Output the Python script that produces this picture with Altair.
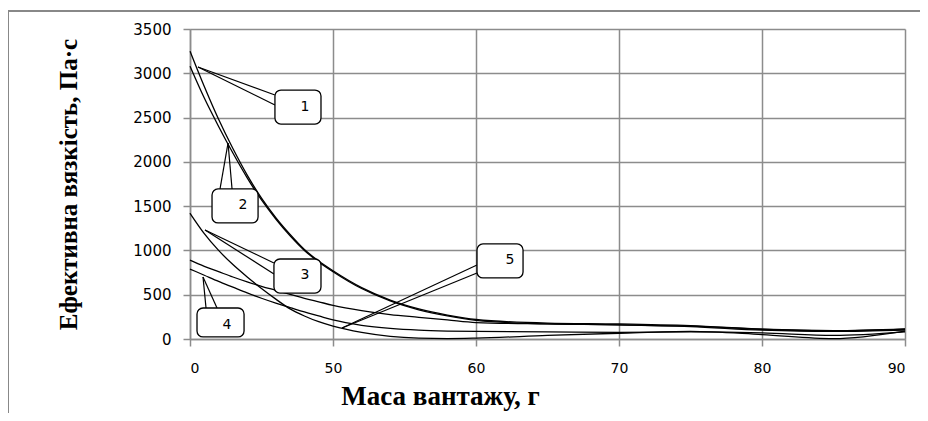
import altair as alt
import pandas as pd

# x positions are category slots (0..5) labelled with these values
x_labels = ["0", "50", "60", "70", "80", "90"]
u_grid = [0, 0.1, 0.2, 0.3, 0.4, 0.5, 0.6, 0.7, 0.8, 0.9, 1.0, 1.2, 1.4, 1.6, 1.8, 2.0, 2.5, 3.0, 3.5, 4.0, 4.5, 5.0]

curve_a = [3250, 2850, 2480, 2150, 1850, 1590, 1370, 1180, 1010, 880, 770, 580, 440, 340, 270, 220, 180, 170, 150, 110, 90, 110]
curve_b = [3080, 2720, 2400, 2100, 1820, 1570, 1355, 1165, 1000, 870, 760, 570, 430, 330, 260, 210, 170, 160, 140, 100, 85, 100]
curve_c = [1420, 1190, 1000, 840, 700, 570, 450, 340, 260, 195, 145, 75, 30, 10, 5, 10, 40, 65, 85, 50, 5, 90]
curve_d1 = [890, 820, 760, 700, 645, 595, 550, 505, 460, 420, 380, 320, 275, 245, 215, 185, 170, 160, 145, 110, 95, 115]
curve_d2 = [790, 720, 650, 585, 520, 460, 405, 355, 305, 260, 215, 155, 120, 100, 90, 85, 80, 75, 80, 70, 40, 80]

curves = {"A": curve_a, "B": curve_b, "C": curve_c, "D1": curve_d1, "D2": curve_d2}

# callouts (data units)
call_text = ["1", "2", "3", "4", "5"]
box_u1 = [0.594, 0.154, 0.587, 0.049, 2.007]
box_u2 = [0.916, 0.476, 0.916, 0.378, 2.329]
box_v1 = [2811, 1694, 903, 350, 1073]
box_v2 = [2427, 1310, 519, 23, 689]
txt_u = [0.783, 0.35, 0.783, 0.238, 2.217]
txt_v = [2619, 1513, 723, 158, 892]
tip_u = [0.056, 0.266, 0.105, 0.091, 1.063]
tip_v = [3071, 2213, 1231, 700, 124]
base_a_u = [0.594, 0.21, 0.587, 0.112, 2.007]
base_a_v = [2755, 1694, 858, 350, 835]
base_b_u = [0.594, 0.294, 0.587, 0.189, 2.007]
base_b_v = [2642, 1694, 734, 350, 745]

rows = []
for name, vals in curves.items():
    for u, v in zip(u_grid, vals):
        rows.append({"curve": name, "u": u, "v": v})
df = pd.DataFrame(rows)

boxes = pd.DataFrame({"t": call_text, "u1": box_u1, "u2": box_u2, "v1": box_v1, "v2": box_v2,
                      "tu": txt_u, "tv": txt_v})
seg_rows = []
for i in range(len(call_text)):
    seg_rows.append({"u": tip_u[i], "v": tip_v[i], "u2": base_a_u[i], "v2": base_a_v[i]})
    seg_rows.append({"u": tip_u[i], "v": tip_v[i], "u2": base_b_u[i], "v2": base_b_v[i]})
segs = pd.DataFrame(seg_rows)

label_expr = "[" + ",".join("'%s'" % s for s in x_labels) + "][datum.value]"

xscale = alt.Scale(domain=[0, 5], nice=False, zero=False)
yscale = alt.Scale(domain=[0, 3500], nice=False)

x_enc = alt.X("u:Q", scale=xscale, axis=alt.Axis(
    values=[0, 1, 2, 3, 4, 5], labelExpr=label_expr, title="Маса вантажу, г",
    titleFont="Liberation Serif", titleFontWeight="bold", titleFontSize=27,
    titleX=250, titleY=65, titleAlign="center", titleBaseline="alphabetic", titleAngle=0,
    labelPadding=15, labelFontSize=14))
y_enc = alt.Y("v:Q", scale=yscale, axis=alt.Axis(
    values=[0, 500, 1000, 1500, 2000, 2500, 3000, 3500], format="d",
    title="Ефективна вязкість, Па·с",
    titleFont="Liberation Serif", titleFontWeight="bold", titleFontSize=25,
    titleX=-122, titleY=155, titleAngle=-90, titleAlign="center", titleBaseline="middle",
    labelPadding=12, labelFontSize=15))

lines = alt.Chart(df).mark_line(color="black", strokeWidth=1.3, interpolate="monotone").encode(
    x=x_enc, y=y_enc, detail="curve:N")

wedges = alt.Chart(segs).mark_rule(color="black", strokeWidth=1.2).encode(
    x="u:Q", y="v:Q", x2="u2:Q", y2="v2:Q")

rects = alt.Chart(boxes).mark_rect(fill="white", stroke="black", strokeWidth=1.3, cornerRadius=6).encode(
    x="u1:Q", x2="u2:Q", y="v1:Q", y2="v2:Q")

texts = alt.Chart(boxes).mark_text(font="DejaVu Sans", fontSize=14, color="black", dx=3).encode(
    x="tu:Q", y="tv:Q", text="t:N")

frame_top = alt.Chart(pd.DataFrame({"a": [0]})).mark_rule(color="#888888", strokeWidth=2).encode(
    x=alt.value(-182), x2=alt.value(730), y=alt.value(-18))
frame_left = alt.Chart(pd.DataFrame({"a": [0]})).mark_rule(color="#888888", strokeWidth=2).encode(
    x=alt.value(-182), y=alt.value(-18), y2=alt.value(400))

chart = alt.layer(frame_top, frame_left, lines, wedges, rects, texts).properties(
    width=715, height=310,
    autosize=alt.AutoSizeParams(type="none"),
    padding={"left": 182, "top": 21, "right": 15, "bottom": 74},
).configure_view(stroke=None).configure_axis(
    grid=True, gridColor="#8c8c8c", gridWidth=1.5,
    domainColor="#8c8c8c", domainWidth=1.5,
    tickColor="#8c8c8c", tickWidth=1.5, tickSize=7,
    labelFont="DejaVu Sans", labelColor="black",
    titleColor="black",
)

chart.save("out.html", embed_options={"renderer": "svg", "actions": False})
